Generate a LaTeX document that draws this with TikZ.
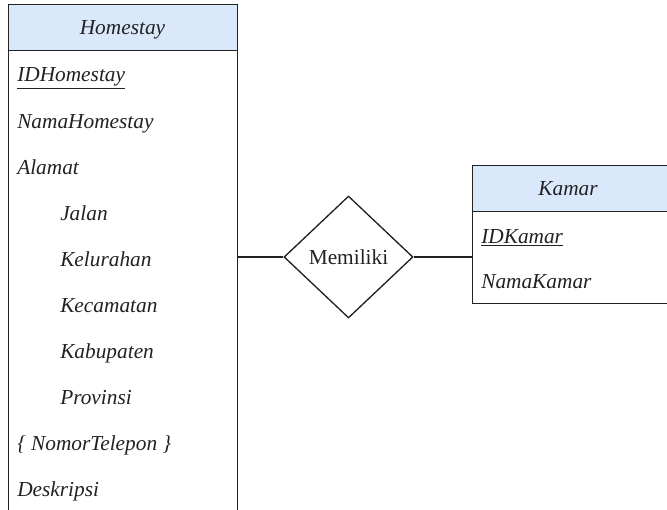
\documentclass[tikz,border=0pt]{standalone}
\usepackage{fontspec}
\setmainfont{Liberation Serif}
\usetikzlibrary{shapes.geometric}
\definecolor{hdrfill}{HTML}{DAE8FC}
\definecolor{ink}{HTML}{222222}
\begin{document}
\begin{tikzpicture}[x=0.75pt,y=-0.75pt,
  every node/.style={font=\fontsize{16}{19}\selectfont\itshape, text=ink},
  hdr/.style={draw=ink, fill=hdrfill, line width=1pt, inner sep=0pt, anchor=north west},
  body/.style={draw=ink, fill=white, line width=1pt, inner sep=0pt, anchor=north west},
  attr/.style={anchor=base west, inner sep=0pt},
  title/.style={anchor=base, inner sep=0pt},
  rel/.style={diamond, draw=ink, fill=white, line width=1pt, inner sep=0pt,
    minimum width=96.75pt, minimum height=91.5pt,
    font=\fontsize{16}{19}\selectfont\upshape},
  link/.style={draw=ink, line width=1pt}]
\useasboundingbox (0,0) rectangle (667,510);
\clip (0,0) rectangle (667,510);

% Entity Homestay (runs past the lower edge)
\node[hdr, minimum width=171.75pt, minimum height=34.5pt] (hhead) at (8,4) {};
\node[body, minimum width=171.75pt, minimum height=352.5pt] (hbody) at (8,50) {};
\node[title] (htitle) at (122.5,35) {Homestay};
\node[attr] (a1) at (17,82) {\underline{IDHomestay}};
\node[attr] (a2) at (17,128) {NamaHomestay};
\node[attr] (a3) at (17,174) {Alamat};
\node[attr] (a4) at (60,220) {Jalan};
\node[attr] (a5) at (60,266) {Kelurahan};
\node[attr] (a6) at (60,312) {Kecamatan};
\node[attr] (a7) at (60,358) {Kabupaten};
\node[attr] (a8) at (60,404) {Provinsi};
\node[attr] (a9) at (17,450) {\{ NomorTelepon \}};
\node[attr] (a10) at (17,496) {Deskripsi};

% Entity Kamar (runs past the right edge)
\node[hdr, minimum width=148.5pt, minimum height=34.5pt] (khead) at (472,165) {};
\node[body, minimum width=148.5pt, minimum height=69pt] (kbody) at (472,211) {};
\node[title] (ktitle) at (568,195) {Kamar};
\node[attr] (b1) at (481,243) {\underline{IDKamar}};
\node[attr] (b2) at (481,288) {NamaKamar};

% Relationship
\node[rel] (rel) at (348.5,257) {Memiliki};

\draw[link] (hbody.east |- rel.west) -- (rel.west);
\draw[link] (rel.east) -- (kbody.west |- rel.east);
\end{tikzpicture}
\end{document}
